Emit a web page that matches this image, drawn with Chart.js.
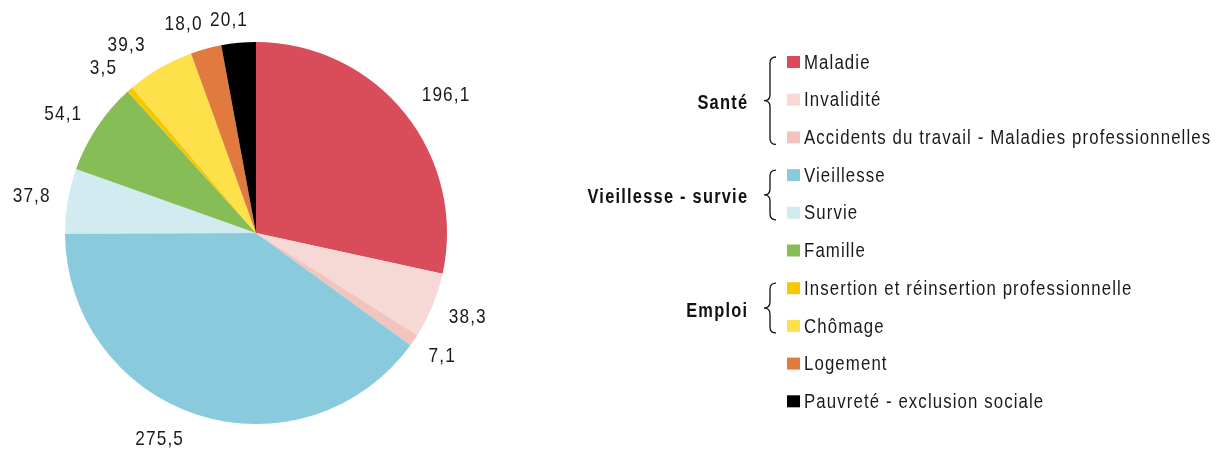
<!DOCTYPE html>
<html lang="fr">
<head>
  <meta charset="UTF-8" />
  <title>Prestations de protection sociale par risque</title>
  <style>
    * { margin: 0; padding: 0; box-sizing: border-box; }
    body { background: white; width: 1216px; height: 454px; overflow: hidden; }
    #wrap { position: relative; width: 1216px; height: 454px; }
  </style>
</head>
<body>
  <div id="wrap"><canvas id="pie" width="1216" height="454"></canvas></div>

  <script src="https://cdn.jsdelivr.net/npm/chart.js"></script>
  <script>
    // data (milliards d'euros)
    const categories = [
      "Maladie", "Invalidité", "Accidents du travail - Maladies professionnelles",
      "Vieillesse", "Survie", "Famille",
      "Insertion et réinsertion professionnelle", "Chômage", "Logement",
      "Pauvreté - exclusion sociale"
    ];
    const values = [196.1, 38.3, 7.1, 275.5, 37.8, 54.1, 3.5, 39.3, 18.0, 20.1];
    const valueLabels = ["196,1", "38,3", "7,1", "275,5", "37,8", "54,1", "3,5", "39,3", "18,0", "20,1"];
    const colors = [
      "#d94c5a", "#f6d9d5", "#f2c4be", "#89cbdc", "#d2ebf1",
      "#86bd56", "#f5c800", "#fde04a", "#e07a3e", "#000000"
    ];
    // groups in the legend: label, first and last category index
    const groups = [
      { name: "Santé", from: 0, to: 2 },
      { name: "Vieillesse - survie", from: 3, to: 4 },
      { name: "Emploi", from: 6, to: 7 }
    ];

    // small nudges of the value labels (Excel moves some of them aside)
    const labelNudge = [[10, -3], [3, 2], [4, 2], [-26, 2], [-3, -1], [-6, 0], [-8, -3], [-17, -2], [-14, -1], [-7, 1]];

    const FONT = '"Liberation Sans", Arial, sans-serif';
    const SX = 0.82; // fake a narrow face

    function narrowText(ctx, text, x, y, font, spacing, align) {
      ctx.save();
      ctx.font = font;
      ctx.letterSpacing = spacing + "px";
      ctx.textBaseline = "middle";
      ctx.textAlign = "left";
      const w = (ctx.measureText(text).width - spacing) * SX;
      let left = x;
      if (align === "center") left = x - w / 2;
      if (align === "right") left = x - w;
      ctx.translate(left, y);
      ctx.scale(SX, 1);
      ctx.fillText(text, 0, 0);
      ctx.restore();
      return w;
    }

    // value labels outside each slice
    const outsideLabels = {
      id: "outsideLabels",
      afterDatasetsDraw(chart) {
        const ctx = chart.ctx;
        const meta = chart.getDatasetMeta(0);
        ctx.save();
        ctx.fillStyle = "#1a1a1a";
        const font = "21px " + FONT;
        meta.data.forEach((arc, i) => {
          const p = arc.getProps(["x", "y", "startAngle", "endAngle", "outerRadius"], true);
          const a = (p.startAngle + p.endAngle) / 2;
          ctx.font = font;
          ctx.letterSpacing = "1.4px";
          const w = ctx.measureText(valueLabels[i]).width * SX;
          const h = 18;
          const r = p.outerRadius + 15;
          const cx = p.x + Math.cos(a) * r + Math.cos(a) * w / 2 + labelNudge[i][0];
          const cy = p.y + Math.sin(a) * r + Math.sin(a) * h / 2 + labelNudge[i][1];
          narrowText(ctx, valueLabels[i], cx, cy, font, 1.4, "center");
        });
        ctx.restore();
      }
    };

    // custom legend with braces on the right
    const sideLegend = {
      id: "sideLegend",
      afterDraw(chart) {
        const ctx = chart.ctx;
        const x0 = 787, y0 = 62, step = 37.7, bw = 13, bh = 12;
        const rowY = i => y0 + i * step;
        ctx.save();
        categories.forEach((c, i) => {
          const y = rowY(i);
          ctx.fillStyle = colors[i];
          ctx.fillRect(x0, y - bh / 2, bw, bh);
          ctx.fillStyle = "#1a1a1a";
          narrowText(ctx, c, x0 + 17, y + 1, "20.5px " + FONT, 1.35, "left");
        });
        groups.forEach(g => {
          const top = rowY(g.from) - 5, bot = rowY(g.to) + 7;
          const mid = (top + bot) / 2;
          const xa = 764, xb = 770, xc = 776, rr = 6;
          ctx.strokeStyle = "#111";
          ctx.lineWidth = 1.3;
          ctx.beginPath();
          ctx.moveTo(xc, top);
          ctx.quadraticCurveTo(xb, top, xb, top + rr);
          ctx.lineTo(xb, mid - rr);
          ctx.quadraticCurveTo(xb, mid, xa, mid);
          ctx.quadraticCurveTo(xb, mid, xb, mid + rr);
          ctx.lineTo(xb, bot - rr);
          ctx.quadraticCurveTo(xb, bot, xc, bot);
          ctx.stroke();
          ctx.fillStyle = "#111";
          narrowText(ctx, g.name, 747, mid + 3, "bold 20px " + FONT, 1.5, "right");
        });
        ctx.restore();
      }
    };

    new Chart(document.getElementById("pie"), {
      type: "pie",
      data: {
        labels: categories,
        datasets: [{
          data: values,
          backgroundColor: colors,
          borderWidth: 0
        }]
      },
      options: {
        responsive: false,
        animation: false,
        layout: { padding: { left: 65, top: 42, right: 769, bottom: 30 } },
        plugins: {
          legend: { display: false },
          tooltip: { enabled: false }
        }
      },
      plugins: [outsideLabels, sideLegend]
    });
  </script>
</body>
</html>
